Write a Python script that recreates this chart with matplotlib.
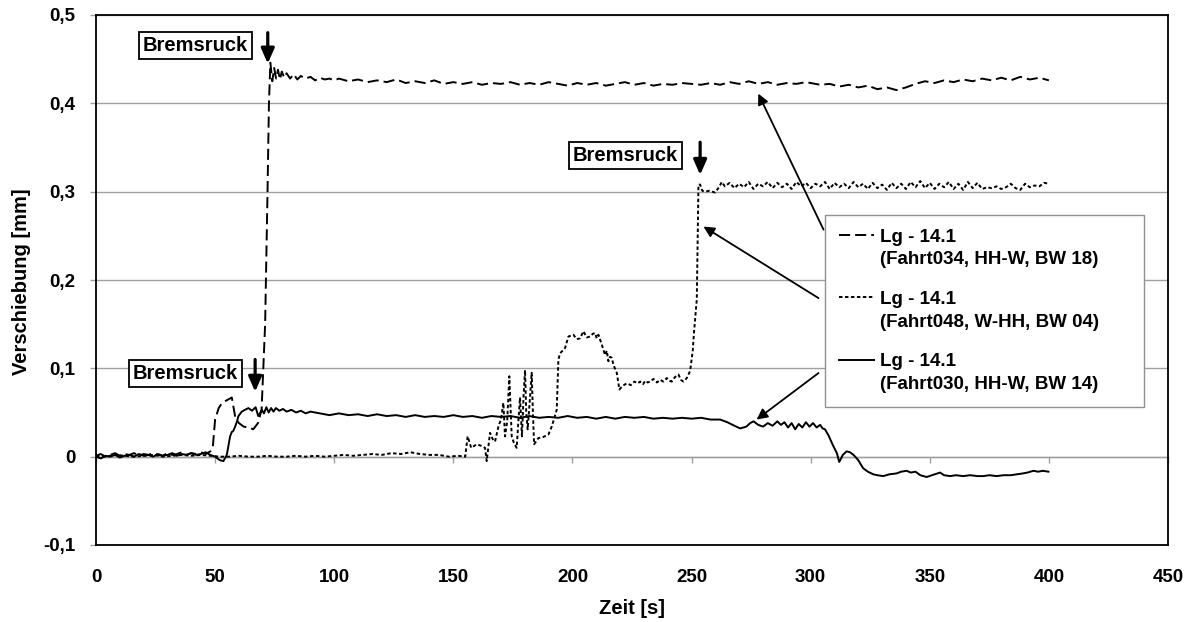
import numpy as np
import matplotlib
matplotlib.use("Agg")
import matplotlib.pyplot as plt
from matplotlib.legend_handler import HandlerLine2D

plt.rcParams['font.family'] = ['Liberation Sans', 'DejaVu Sans']
plt.rcParams['font.weight'] = 'bold'
plt.rcParams['axes.labelweight'] = 'bold'
plt.rcParams['lines.scale_dashes'] = False

# --- Fahrt034 (lang gestrichelt) ---
t_034 = [0, 2, 4, 6, 8, 10, 12, 14, 16, 18, 20, 22, 24, 26, 28, 30, 32, 34, 36, 38,
         40, 42, 44, 46, 48, 49, 50, 51.5, 53, 55, 57, 58.5, 60, 62, 64, 66, 68, 69.5,
         71, 72, 72.6, 73.2, 74, 74.8, 75.6, 76.4, 77.2, 78, 79, 80, 81.5, 83, 84.5, 86,
         88, 90, 92, 94, 96, 98, 100,
         102, 106, 110, 114, 118, 122, 126, 130, 134, 138, 142, 146, 150,
         154, 158, 162, 166, 170, 174, 178, 182, 186, 190, 194, 198, 202, 206, 210, 214,
         218, 222, 226, 230, 234, 238, 242, 246, 250,
         254, 258, 262, 266, 270, 274, 278, 282, 286, 290, 294, 298,
         304, 308, 312, 316, 320, 324, 328, 332, 336,
         340, 344, 348, 352, 356, 360, 364, 368, 372, 376, 380, 384, 388, 392, 396, 400]
v_034 = [0.001, 0.003, 0.000, 0.002, 0.004, 0.001, 0.003, 0.002, 0.004, 0.001, 0.003,
         0.002, 0.004, 0.002, 0.001, 0.004, 0.002, 0.003, 0.005, 0.002, 0.004, 0.003,
         0.005, 0.003, 0.006, 0.010, 0.042, 0.055, 0.061, 0.064, 0.067, 0.044, 0.038,
         0.034, 0.033, 0.031, 0.038, 0.053, 0.150, 0.300, 0.400, 0.446, 0.425, 0.440,
         0.428, 0.438, 0.427, 0.436, 0.429, 0.434, 0.428, 0.433, 0.427, 0.431, 0.428,
         0.430, 0.426, 0.429, 0.427, 0.428, 0.426,
         0.428, 0.425, 0.427, 0.424, 0.426, 0.424, 0.427, 0.423, 0.425, 0.423, 0.426, 0.422, 0.424,
         0.422, 0.424, 0.421, 0.423, 0.422, 0.424, 0.421, 0.423, 0.421, 0.424, 0.422, 0.420,
         0.423, 0.421, 0.423, 0.420, 0.422, 0.424, 0.421, 0.423, 0.420, 0.422, 0.421, 0.423, 0.422,
         0.421, 0.423, 0.421, 0.424, 0.422, 0.425, 0.422, 0.424, 0.421, 0.423, 0.422, 0.424,
         0.421, 0.422, 0.419, 0.421, 0.418, 0.420, 0.416, 0.418, 0.415,
         0.418, 0.422, 0.425, 0.423, 0.426, 0.424, 0.427, 0.425, 0.428, 0.426, 0.429, 0.426,
         0.430, 0.427, 0.429, 0.426]

# --- Fahrt048 (kurz gestrichelt) ---
t_048 = [0, 4, 8, 12, 16, 20, 24, 28, 32, 36, 40, 44, 48,
         52, 56, 60, 64, 68, 72, 76, 80, 84, 88, 92, 96, 100, 104, 108, 112, 116,
         120, 124, 128, 132, 136, 140, 144, 148, 152,
         155, 156, 157.5, 159.8, 162, 163.3, 164, 165.4, 166.5, 167.5, 169, 170, 171, 171.7,
         172.6, 173.5, 174.5, 175.5, 176.6, 177.3, 178, 178.8, 179.5, 180.1, 180.6, 181.2,
         182, 182.9, 183.4, 183.9, 185.7, 187.5, 189.9, 191.3, 193.4, 194.1, 194.8, 196.9,
         198.3, 200.4, 201.8, 203.2, 204.6, 206, 207.4, 208.5, 209.5, 210.2, 210.9, 212.3,
         213.7, 214.4, 215.1, 215.8, 216.5, 217.2, 218.6, 219.7, 221, 222.8, 224.5, 226,
         227.4, 228.4, 229.6, 230.6, 231.6, 232.6, 234, 235.5, 236.8, 238.2, 239.6, 240.6,
         241.7, 243, 244.5, 245.5, 246.6, 248, 249.4, 250.5, 251, 252.2, 252.9, 253.6,
         254.5, 255.6, 257.5, 259.9, 261.5, 262.7,
         264, 266, 268, 270, 272, 274, 276, 278, 280, 282, 284, 286, 288, 290, 292, 294,
         296, 298, 300, 302, 304, 306, 308, 310, 312, 314, 316, 318, 320, 322, 324, 326,
         328, 330, 332, 334, 336, 338, 340, 342, 344, 346, 348, 350, 352, 354, 356, 358,
         360, 362, 364, 366, 368, 370, 372, 374, 376, 378, 380, 382, 384, 386, 388, 390,
         392, 394, 396, 398, 400]
v_048 = [0.001, 0.000, 0.002, 0.001, 0.000, 0.001, 0.002, 0.000, 0.001, 0.002, 0.001, 0.002, 0.001,
         0.000, 0.000, 0.001, 0.000, 0.000, 0.001, 0.000, 0.000, 0.001, 0.000, 0.001, 0.000,
         0.001, 0.002, 0.001, 0.002, 0.003,
         0.002, 0.004, 0.003, 0.005, 0.003, 0.002, 0.002, 0.000, 0.001,
         0.000, 0.023, 0.010, 0.014, 0.012, 0.010, -0.005, 0.027, 0.020, 0.017, 0.035, 0.042,
         0.061, 0.023, 0.040, 0.091, 0.023, 0.015, 0.010, 0.040, 0.067, 0.023, 0.070, 0.098,
         0.050, 0.031, 0.060, 0.095, 0.050, 0.014, 0.021, 0.022, 0.025, 0.034, 0.053, 0.110,
         0.117, 0.123, 0.136, 0.138, 0.133, 0.134, 0.142, 0.135, 0.136, 0.139, 0.140, 0.134,
         0.138, 0.127, 0.115, 0.120, 0.108, 0.113, 0.112, 0.104, 0.095, 0.076, 0.080, 0.083,
         0.081, 0.085, 0.083, 0.085, 0.082, 0.086, 0.084, 0.085, 0.088, 0.084, 0.087, 0.085,
         0.089, 0.086, 0.085, 0.090, 0.093, 0.087, 0.085, 0.089, 0.097, 0.120, 0.140, 0.178,
         0.308, 0.308, 0.301, 0.300, 0.301, 0.299, 0.305, 0.311,
         0.306, 0.310, 0.304, 0.309, 0.305, 0.311, 0.303, 0.309, 0.306, 0.311, 0.304, 0.310,
         0.305, 0.309, 0.303, 0.311, 0.306, 0.310, 0.304, 0.309, 0.306, 0.311, 0.303, 0.310,
         0.305, 0.309, 0.304, 0.311, 0.305, 0.309, 0.303, 0.310, 0.304, 0.308, 0.302, 0.310,
         0.304, 0.309, 0.303, 0.311, 0.305, 0.312, 0.304, 0.310, 0.303, 0.309, 0.305, 0.311,
         0.303, 0.309, 0.302, 0.311, 0.304, 0.310, 0.303, 0.305, 0.304, 0.306, 0.303, 0.305,
         0.309, 0.304, 0.302, 0.309, 0.305, 0.307, 0.306, 0.310, 0.309]

# --- Fahrt030 (durchgezogen) ---
t_030 = [0, 2, 4, 6, 8, 10, 12, 14, 16, 18, 20, 22, 24, 26, 28, 30, 32, 34, 36, 38,
         40, 42, 44, 46, 48, 50, 52, 53.5, 54.9, 56.3, 57, 57.6, 58.4, 59.2, 59.8, 61.2,
         62.5, 64, 65.5, 67, 68.1, 69, 69.6, 70.5, 71.5, 72.5, 73.5, 74.5, 75.5, 77, 78.5,
         80, 82, 84, 86, 88, 90,
         94, 98, 102, 106, 110, 114, 118, 122, 126, 130, 134, 138, 142, 146, 150, 154,
         158, 162, 166, 170, 174, 178, 182, 186, 190, 194, 198, 202, 206, 210, 214, 218,
         222, 226, 230, 234, 238, 242, 246, 250, 254, 258, 262,
         265, 268, 270.4, 273, 274.6, 276, 278, 280, 282, 284, 286, 287.5, 289, 290.5, 292,
         293.5, 295, 296.5, 298, 299.5, 301, 302.5, 304, 305, 306, 307.5, 309.5, 311, 312,
         313.5, 315.1, 316.5, 318, 320, 322, 324, 326.3, 328, 330.5, 333, 336, 338, 340.3,
         342, 344, 346, 348.7, 351, 354.3, 356, 358.5, 361, 364, 367, 370, 372.5, 375, 378,
         381, 384, 386.5, 389, 391, 393.5, 395.5, 397.5, 399.8]
v_030 = [0.000, -0.002, 0.001, 0.000, 0.002, -0.001, 0.001, 0.002, 0.000, 0.003, 0.001,
         0.002, 0.000, 0.003, 0.001, 0.002, 0.004, 0.001, 0.003, 0.002, 0.004, 0.002, 0.003,
         0.005, 0.002, 0.000, -0.004, -0.005, 0.002, 0.023, 0.028, 0.029, 0.034, 0.040,
         0.046, 0.051, 0.053, 0.055, 0.052, 0.056, 0.046, 0.050, 0.053, 0.049, 0.056, 0.050,
         0.055, 0.051, 0.055, 0.052, 0.054, 0.051, 0.053, 0.050, 0.052, 0.049, 0.051,
         0.049, 0.047, 0.049, 0.047, 0.048, 0.046, 0.048, 0.046, 0.047, 0.045, 0.047, 0.045,
         0.046, 0.045, 0.047, 0.045, 0.046, 0.044, 0.046, 0.045, 0.046, 0.044, 0.046, 0.044,
         0.045, 0.044, 0.046, 0.044, 0.045, 0.043, 0.045, 0.043, 0.045, 0.044, 0.045, 0.043,
         0.044, 0.043, 0.044, 0.043, 0.044, 0.042, 0.042,
         0.039, 0.035, 0.032, 0.034, 0.038, 0.040, 0.036, 0.034, 0.038, 0.035, 0.040, 0.036,
         0.039, 0.033, 0.038, 0.031, 0.037, 0.033, 0.039, 0.034, 0.038, 0.033, 0.036, 0.032,
         0.031, 0.024, 0.012, 0.004, -0.006, 0.002, 0.006, 0.005, 0.002, -0.004, -0.013,
         -0.017, -0.020, -0.021, -0.022, -0.020, -0.019, -0.017, -0.016, -0.018, -0.017,
         -0.021, -0.023, -0.021, -0.018, -0.021, -0.022, -0.021, -0.022, -0.021, -0.022,
         -0.022, -0.021, -0.022, -0.021, -0.021, -0.020, -0.019, -0.018, -0.016, -0.017,
         -0.016, -0.017]

labels = ["Lg - 14.1\n(Fahrt034, HH-W, BW 18)",
          "Lg - 14.1\n(Fahrt048, W-HH, BW 04)",
          "Lg - 14.1\n(Fahrt030, HH-W, BW 14)"]

x_ticks = [0, 50, 100, 150, 200, 250, 300, 350, 400, 450]
y_ticks = [-0.1, 0, 0.1, 0.2, 0.3, 0.4, 0.5]
y_ticklabels = ["-0,1", "0", "0,1", "0,2", "0,3", "0,4", "0,5"]

# Bremsruck-Markierungen: Textposition, Pfeil (x, y_oben, y_spitze)
brems_text = [(41.8, 0.465), (222.1, 0.3405), (37.4, 0.094)]
brems_arrow = [(72.1, 0.480, 0.445), (253.6, 0.356, 0.319), (66.8, 0.110, 0.0735)]

# Pfeile von der Legende zu den Kurven: (x_start, y_start, x_ziel, y_ziel)
legend_arrows = [(305.4, 0.257, 278.0, 0.411),
                 (303.3, 0.1795, 255.0, 0.2605),
                 (303.3, 0.0947, 277.3, 0.042)]


class TopLineHandler(HandlerLine2D):
    # Linie auf Höhe der ersten Textzeile setzen
    def create_artists(self, legend, orig_handle, xdescent, ydescent, width, height,
                       fontsize, trans):
        artists = super().create_artists(legend, orig_handle, xdescent, ydescent,
                                         width, height, fontsize, trans)
        for a in artists:
            a.set_ydata(np.asarray(a.get_ydata()) + 0.72 * fontsize)
        return artists


fig = plt.figure(figsize=(11.9, 6.22), dpi=100)
ax = fig.add_axes([96 / 1190, 1 - 545 / 622, 1072 / 1190, 530 / 622])

l1, = ax.plot(t_034, v_034, color='black', lw=1.4, dashes=(8, 3.6), label=labels[0])
l2, = ax.plot(t_048, v_048, color='black', lw=1.4, dashes=(2.5, 1.8), label=labels[1])
l3, = ax.plot(t_030, v_030, color='black', lw=1.4, label=labels[2])

ax.set_xlim(0, 450)
ax.set_ylim(-0.1, 0.5)
ax.set_xticks(x_ticks)
ax.set_yticks(y_ticks)
ax.set_yticklabels(y_ticklabels)
ax.tick_params(axis='x', length=0, pad=17.5, labelsize=13.5)
ax.tick_params(axis='y', length=4.3, color='#a0a0a0', width=1, pad=10.5, labelsize=13.5)
ax.grid(axis='y', color='#a0a0a0', lw=1)
ax.set_axisbelow(True)
for s in ax.spines.values():
    s.set_color('black')
    s.set_linewidth(1.3)

# x-Achse schneidet bei 0
sec = ax.secondary_xaxis((0 - (-0.1)) / 0.6)
sec.set_xticks(x_ticks)
sec.tick_params(axis='x', labelbottom=False, length=4.3, color='#a0a0a0', width=1)
sec.spines['bottom'].set_color('#a0a0a0')
sec.spines['bottom'].set_linewidth(1)

ax.set_xlabel("Zeit [s]", fontsize=14.5, fontweight='bold')
ax.set_ylabel("Verschiebung [mm]", fontsize=14.5, fontweight='bold')
ax.xaxis.set_label_coords(0.5, -0.102)
ax.yaxis.set_label_coords(-0.061, 0.497)

for (tx, ty), (ax_x, ay0, ay1) in zip(brems_text, brems_arrow):
    ax.text(tx, ty, "Bremsruck", ha='center', va='center', fontsize=14.5, zorder=5,
            bbox=dict(boxstyle='square,pad=0.2', fc='white', ec='black', lw=1.3))
    ax.annotate('', xy=(ax_x, ay1), xytext=(ax_x, ay0), zorder=5,
                arrowprops=dict(arrowstyle='-|>,head_length=0.5,head_width=0.22',
                                color='black', lw=2.3, mutation_scale=18,
                                shrinkA=0, shrinkB=0))

leg = ax.legend(handles=[l1, l2, l3], loc='upper left',
                bbox_to_anchor=(825 / 1190, 1 - 215 / 622 - 0.001, 319 / 1190, 0.001),
                bbox_transform=fig.transFigure, mode='expand', borderaxespad=0,
                fontsize=13.5, handlelength=1.9, handletextpad=0.3, labelspacing=1.2,
                borderpad=0.72, fancybox=False, framealpha=1, edgecolor='#909090',
                handler_map={matplotlib.lines.Line2D: TopLineHandler()})
leg.get_frame().set_linewidth(1)
for txt in leg.get_texts():
    txt.set_linespacing(1.45)

for x0, y0, x1, y1 in legend_arrows:
    ax.annotate('', xy=(x1, y1), xytext=(x0, y0), zorder=6,
                arrowprops=dict(arrowstyle='-|>', color='black', lw=1.3,
                                mutation_scale=16, shrinkA=0, shrinkB=0))

fig.savefig("out.png", dpi=100)
